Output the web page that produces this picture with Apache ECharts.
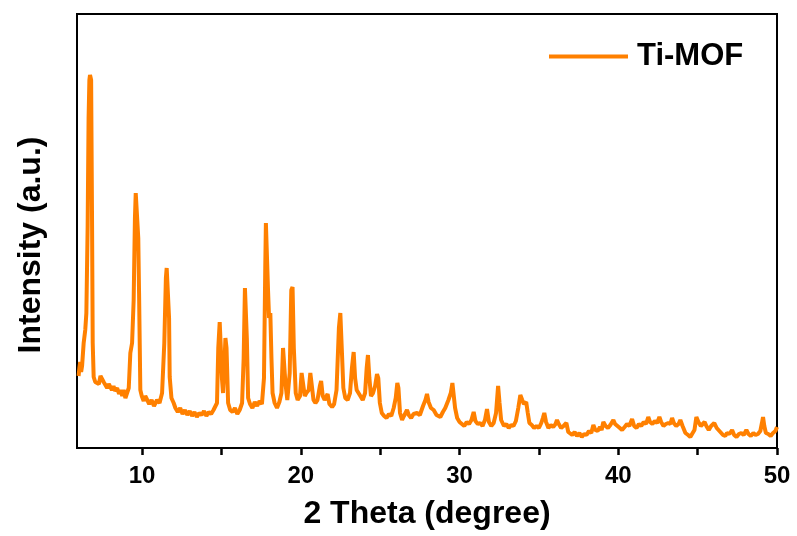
<!DOCTYPE html>
<html>
<head>
<meta charset="utf-8">
<script src="https://cdn.jsdelivr.net/npm/echarts@6/dist/echarts.min.js"></script>
<style>
  html, body { margin: 0; padding: 0; background: #fff; }
  #main { width: 797px; height: 536px; }
</style>
</head>
<body>
<div id="main"></div>
<script>
// 2 theta (degree) and intensity (a.u.)
var twoTheta = [
  6.00, 6.05, 6.10, 6.16, 6.22, 6.32, 6.42, 6.49, 6.57, 6.63, 6.68, 6.72, 6.79, 6.85, 6.89, 6.95,
  7.05, 7.17, 7.28, 7.38, 7.48, 7.58, 7.69, 7.8, 7.9, 8.0, 8.1, 8.2, 8.3, 8.43, 8.55, 8.65, 8.75, 8.84, 8.95,
  9.06, 9.16, 9.26, 9.37, 9.47, 9.55, 9.6, 9.7, 9.76, 9.81, 9.89, 9.98,
  10.1, 10.2, 10.31, 10.45, 10.6, 10.75, 10.94, 11.1, 11.26, 11.4, 11.5, 11.55, 11.64, 11.7, 11.74, 11.85, 11.99,
  12.1, 12.25, 12.4, 12.55, 12.7, 12.85, 13.0, 13.15, 13.3, 13.45, 13.6, 13.75, 13.9,
  14.05, 14.2, 14.35, 14.5, 14.62, 14.72, 14.8, 14.89, 14.96, 15.03, 15.1, 15.18, 15.25, 15.32, 15.42,
  15.55, 15.7, 15.85, 16.0, 16.15, 16.3, 16.4, 16.48, 16.54, 16.6, 16.68, 16.8, 16.95,
  17.1, 17.25, 17.4, 17.55, 17.68, 17.76, 17.8, 17.86, 17.93, 18.0, 18.08, 18.15, 18.22, 18.35, 18.5, 18.65,
  18.78, 18.88, 18.95, 19.03, 19.15, 19.3, 19.4, 19.48, 19.56, 19.68, 19.8, 19.95,
  20.05, 20.12, 20.25, 20.35, 20.5, 20.6, 20.68, 20.8, 20.92, 21.05, 21.2, 21.28, 21.38, 21.5, 21.62, 21.69,
  21.8, 21.97, 22.1, 22.25, 22.4, 22.49, 22.58, 22.68, 22.8, 22.95, 23.1, 23.22, 23.33, 23.42, 23.52, 23.62,
  23.75, 23.9, 24.05, 24.15, 24.23, 24.32, 24.42, 24.55, 24.68, 24.8, 24.88, 24.98,
  25.1, 25.25, 25.4, 25.55, 25.7, 25.85, 25.98, 26.08, 26.15, 26.25, 26.38, 26.5, 26.69, 26.8, 26.95,
  27.1, 27.32, 27.5, 27.7, 27.85, 27.95, 28.05, 28.2, 28.37, 28.55, 28.79, 28.95,
  29.1, 29.3, 29.45, 29.55, 29.62, 29.72, 29.85, 30.0, 30.15, 30.3, 30.45, 30.6, 30.75, 30.89,
  31.0, 31.15, 31.3, 31.45, 31.6, 31.73, 31.85, 32.0, 32.15, 32.3, 32.43, 32.52, 32.62, 32.8, 32.95,
  33.1, 33.25, 33.4, 33.55, 33.7, 33.83, 33.95, 34.05, 34.2, 34.3, 34.4, 34.55, 34.7, 34.85,
  35.0, 35.15, 35.25, 35.34, 35.45, 35.6, 35.75, 35.9, 36.05, 36.14, 36.25, 36.4, 36.55, 36.73, 36.85, 36.95,
  37.1, 37.25, 37.4, 37.55, 37.7, 37.85, 38.0, 38.15, 38.3, 38.43, 38.55, 38.7, 38.85, 38.95,
  39.06, 39.2, 39.35, 39.5, 39.69, 39.8, 39.95, 40.1, 40.24, 40.4, 40.55, 40.7, 40.87,
  41.0, 41.15, 41.3, 41.45, 41.6, 41.75, 41.89, 42.0, 42.15, 42.3, 42.45, 42.59, 42.7, 42.85,
  43.0, 43.15, 43.28, 43.39, 43.5, 43.65, 43.8, 43.91, 44.05, 44.23, 44.4, 44.54, 44.65, 44.8, 44.92,
  45.05, 45.2, 45.3, 45.44, 45.55, 45.7, 45.85, 46.05, 46.2, 46.3, 46.43, 46.6, 46.74, 46.85,
  47.0, 47.17, 47.3, 47.45, 47.6, 47.75, 47.9, 48.07, 48.2, 48.35, 48.51, 48.65, 48.8, 48.95,
  49.05, 49.12, 49.2, 49.3, 49.45, 49.6, 49.75, 49.9, 50.0
];
var intensity = [
  72, 80, 86, 76, 82, 105, 118, 135, 221, 330, 368, 373, 368, 221, 105, 71,
  66, 68, 64, 72, 73, 66, 65, 60, 64, 63, 58, 62, 57, 60, 54, 58, 52, 58, 50,
  51, 60, 95, 105, 148, 230, 255, 256, 210, 155, 58, 52,
  47, 52, 51, 44, 48, 42, 48, 45, 55, 105, 170, 180, 180, 130, 71, 50, 45,
  40, 36, 40, 34, 38, 33, 37, 32, 36, 31, 35, 33, 37,
  32, 36, 34, 38, 40, 45, 100, 126, 100, 70, 55, 80, 110, 100, 45,
  38, 36, 40, 34, 38, 45, 90, 160, 160, 110, 50, 44, 40,
  46, 42, 47, 44, 70, 180, 225, 225, 160, 130, 135, 90, 55, 45, 40, 46,
  55, 100, 102, 65, 48, 75, 158, 161, 100, 55, 48, 52,
  75, 75, 52, 55, 58, 75, 73, 48, 45, 48, 62, 67, 52, 48, 50, 54,
  44, 41, 44, 58, 120, 135, 100, 60, 50, 48, 55, 80, 96, 70, 58, 56,
  52, 48, 55, 80, 93, 70, 52, 55, 62, 74, 70, 45,
  35, 32, 30, 34, 32, 40, 50, 65, 60, 35, 28, 32, 38, 33, 30,
  34, 35, 33, 42, 48, 54, 46, 40, 38, 33, 31, 36,
  40, 48, 55, 65, 64, 40, 30, 26, 24, 22, 26, 24, 28, 36,
  27, 24, 25, 22, 28, 39, 26, 22, 25, 35, 62, 45, 28, 22, 24,
  20, 23, 22, 27, 40, 53, 48, 44, 46, 35, 25, 23, 20, 22,
  20, 25, 30, 35, 26, 20, 23, 21, 24, 28, 24, 20, 22, 25, 16, 14,
  13, 16, 12, 15, 11, 14, 13, 17, 15, 23, 18, 17, 21, 18,
  26, 22, 20, 23, 28, 24, 22, 20, 18, 21, 24, 22, 29,
  22, 20, 24, 22, 26, 24, 31, 26, 24, 27, 25, 31, 26, 22,
  24, 25, 24, 30, 25, 22, 24, 28, 22, 15, 13, 11, 14, 18, 31,
  26, 22, 24, 26, 22, 18, 22, 25, 20, 18, 16, 13, 12, 15,
  14, 18, 13, 11, 14, 15, 13, 18, 14, 12, 15, 13, 14, 17,
  25, 31, 22, 15, 14, 12, 15, 17, 21
];
var xMin = 5.9, xMax = 50;
var tickStart = 10, tickStep = 5;

var myChart = echarts.init(document.getElementById('main'));
var points = [];
for (var i = 0; i < twoTheta.length; i++) {
    points.push([twoTheta[i], intensity[i]]);
}
var font = 'Liberation Sans, Arial, sans-serif';

// plot box
var gLeft = 77, gRight = 20, gTop = 14, gBottom = 88;
var plotW = 797 - gLeft - gRight;
// tick grid starts at 2θ = 10 so its ticks sit on the data axis positions
var tickGridLeft = gLeft + (tickStart - xMin) * plotW / (xMax - xMin);

myChart.setOption({
    animation: false,
    backgroundColor: '#fff',
    grid: [
        {
            left: gLeft, right: gRight, top: gTop, bottom: gBottom,
            show: true, borderColor: '#000', borderWidth: 2,
            outerBoundsMode: 'none'
        },
        {
            left: tickGridLeft, right: gRight, top: gTop, bottom: gBottom,
            show: false,
            outerBoundsMode: 'none'
        }
    ],
    legend: {
        data: ['Ti-MOF'],
        left: 549,
        top: 41,
        padding: 0,
        icon: 'rect',
        itemWidth: 79,
        itemHeight: 4,
        textStyle: {
            fontFamily: font,
            fontSize: 31,
            fontWeight: 'bold',
            color: '#000',
            padding: [0, 0, 0, 4]
        }
    },
    xAxis: [
        {
            gridIndex: 0,
            type: 'value',
            min: xMin,
            max: xMax,
            name: '2 Theta (degree)',
            nameLocation: 'middle',
            nameGap: 50,
            nameTextStyle: { fontFamily: font, fontSize: 32, fontWeight: 'bold', color: '#000' },
            splitLine: { show: false },
            axisLine: { show: true, onZero: false, lineStyle: { color: '#000', width: 2 } },
            axisTick: { show: false },
            axisLabel: { show: false }
        },
        {
            gridIndex: 1,
            type: 'value',
            min: tickStart,
            max: xMax,
            interval: tickStep,
            position: 'bottom',
            splitLine: { show: false },
            axisLine: { show: true, onZero: false, lineStyle: { color: '#000', width: 2 } },
            axisTick: {
                show: true,
                inside: false,
                length: 7,
                lineStyle: { color: '#000', width: 2.5 }
            },
            axisLabel: {
                margin: 16,
                fontFamily: font,
                fontSize: 24,
                fontWeight: 'bold',
                color: '#000',
                formatter: function (v) { return v % 10 === 0 ? String(v) : ''; }
            }
        }
    ],
    yAxis: [
        {
            gridIndex: 0,
            type: 'value',
            min: 0,
            max: 434,
            name: 'Intensity (a.u.)',
            nameLocation: 'middle',
            nameGap: 30,
            nameTextStyle: {
                fontFamily: font, fontSize: 32, fontWeight: 'bold', color: '#000',
                padding: [0, 28, 0, 0]
            },
            splitLine: { show: false },
            axisLine: { show: true, onZero: false, lineStyle: { color: '#000', width: 2 } },
            axisTick: { show: false },
            axisLabel: { show: false }
        },
        {
            gridIndex: 1,
            type: 'value',
            min: 0,
            max: 434,
            show: false
        }
    ],
    series: [
        {
            name: 'Ti-MOF',
            type: 'line',
            xAxisIndex: 0,
            yAxisIndex: 0,
            data: points,
            showSymbol: false,
            symbol: 'none',
            color: '#FF8000',
            lineStyle: { color: '#FF8000', width: 4 }
        }
    ]
});
</script>
</body>
</html>
